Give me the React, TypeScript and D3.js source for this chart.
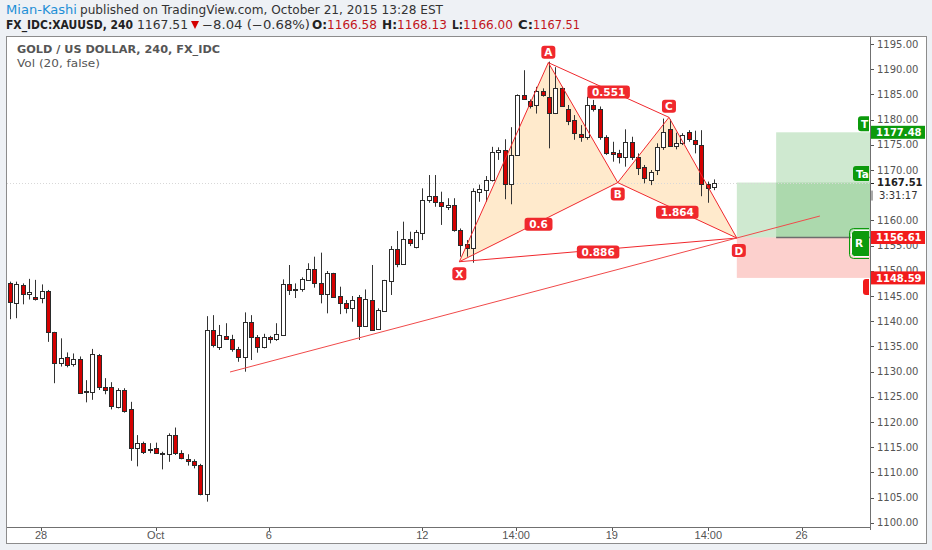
import React from 'react';
import * as d3 from 'd3';

// ---- Data ----
const opens = [1147.65,1143.55,1147.2,1145.3,1144.9,1144.7,1146.06,1137.85,1131.8,1132.8,1131.6,1132.5,1125.9,1126.0,1133.3,1127.0,1127.0,1123.05,1126.35,1122.5,1114.8,1115.8,1114.5,1114.8,1113.8,1113.65,1117.35,1113.9,1112.65,1112.3,1111.5,1105.7,1138.25,1134.95,1137.1,1136.4,1134.4,1132.96,1139.77,1136.8,1134.8,1136.9,1136.5,1137.26,1147.3,1146.3,1146.3,1148.2,1150.3,1147.5,1145.35,1149.5,1145.0,1143.54,1142.6,1144.86,1139.05,1144.2,1138.38,1142.02,1148.04,1154.25,1151.28,1156.24,1154.65,1157.56,1164.05,1164.9,1163.7,1162.6,1163.05,1158.1,1155.3,1154.45,1165.56,1166.03,1168.0,1173.5,1174.0,1167.2,1173.0,1184.9,1183.75,1182.9,1185.7,1184.55,1181.24,1186.2,1182.2,1179.9,1177.07,1176.6,1182.9,1182.1,1176.6,1173.63,1173.4,1172.6,1175.6,1172.6,1170.66,1168.0,1170.0,1174.6,1178.07,1174.76,1175.3,1177.6,1175.95,1174.95,1167.2,1166.58];
const highs = [1147.85,1147.85,1147.5,1148.4,1148.2,1147.3,1146.2,1137.9,1136.6,1133.8,1133.6,1133.0,1128.3,1134.5,1133.5,1128.7,1127.9,1126.7,1126.7,1124.0,1117.4,1116.1,1115.8,1115.9,1114.1,1117.75,1118.9,1114.4,1113.6,1112.6,1111.7,1141.0,1141.2,1139.25,1139.6,1137.3,1134.9,1141.75,1141.2,1137.25,1137.5,1137.1,1139.6,1148.3,1151.15,1147.5,1148.7,1151.5,1152.8,1153.6,1149.96,1149.6,1146.85,1144.2,1145.0,1145.2,1146.3,1151.15,1142.55,1148.2,1154.9,1157.9,1159.75,1157.76,1158.1,1166.36,1169.0,1169.0,1165.7,1164.4,1164.4,1158.4,1156.1,1166.36,1167.1,1168.8,1174.6,1174.5,1176.1,1178.5,1185.0,1189.8,1184.0,1186.5,1186.2,1191.5,1190.4,1186.5,1182.9,1180.9,1178.9,1184.55,1183.9,1182.6,1176.9,1175.6,1174.0,1178.07,1176.6,1173.3,1171.0,1170.0,1175.3,1180.2,1180.05,1177.4,1177.3,1177.9,1177.8,1177.9,1167.7,1168.13];
const lows = [1140.4,1140.6,1143.35,1144.3,1144.1,1143.55,1135.9,1127.7,1131.0,1130.85,1131.0,1125.6,1123.9,1124.4,1126.35,1125.5,1122.5,1122.7,1121.85,1112.3,1111.2,1113.65,1113.8,1113.65,1110.6,1112.1,1113.45,1112.6,1111.35,1110.8,1105.45,1104.2,1134.8,1134.3,1136.3,1133.95,1131.95,1129.98,1132.3,1133.75,1134.6,1135.6,1136.1,1137.06,1145.2,1144.6,1145.85,1148.04,1146.65,1143.54,1141.56,1144.67,1141.4,1141.56,1139.9,1136.27,1138.9,1138.1,1138.25,1141.9,1145.2,1150.7,1151.15,1154.9,1154.45,1156.1,1163.5,1162.7,1159.1,1162.06,1157.76,1152.8,1152.8,1151.6,1163.7,1163.7,1167.7,1172.0,1164.2,1163.2,1172.9,1183.9,1182.2,1181.2,1184.55,1174.3,1181.1,1182.6,1178.9,1176.0,1175.6,1176.0,1181.6,1176.0,1173.0,1171.65,1171.3,1170.66,1172.0,1169.0,1167.35,1167.0,1169.0,1174.0,1174.6,1174.1,1174.95,1175.6,1173.3,1164.8,1163.5,1166.0];
const closes = [1143.75,1147.3,1145.3,1145.7,1144.5,1146.0,1137.8,1131.8,1132.6,1131.3,1132.5,1125.8,1126.1,1133.4,1126.9,1126.35,1123.2,1126.35,1122.25,1114.8,1115.8,1114.1,1114.7,1113.8,1113.9,1117.5,1113.8,1112.8,1112.25,1111.5,1105.7,1138.25,1135.3,1137.3,1136.4,1134.5,1132.8,1139.77,1136.8,1134.95,1136.9,1136.4,1137.5,1147.3,1146.2,1146.45,1148.4,1150.35,1147.5,1145.35,1149.5,1144.75,1143.54,1142.68,1144.3,1139.05,1144.33,1138.25,1142.22,1148.17,1154.25,1151.35,1156.24,1155.45,1157.76,1164.05,1164.9,1163.7,1162.85,1163.05,1158.1,1155.1,1154.45,1165.9,1166.2,1168.0,1173.63,1174.0,1167.2,1173.0,1184.9,1184.0,1182.75,1185.7,1184.9,1181.24,1186.2,1182.7,1179.7,1177.3,1176.6,1182.9,1182.2,1176.5,1173.4,1173.1,1172.5,1175.6,1172.6,1170.3,1168.35,1169.67,1174.6,1177.6,1174.76,1175.4,1176.94,1176.1,1175.1,1167.2,1166.5,1167.51];

const priceTicks = [1100,1105,1110,1115,1120,1125,1130,1135,1140,1145,1150,1155,1160,1165,1170,1175,1180,1185,1190,1195];
const timeLabels = ['28','Oct','6','12','14:00','19','14:00','26'];
const timeLabelIdx = [4.9, 22.97, 40.8, 65.0, 79.8, 94.9, 110.1, 124.8];

const patternNames = ['X','A','B','C','D'];
const patternIdx = [70.85, 84.88, 95.82, 103.9, 114.6];
const patternPrice = [1151.8, 1191.3, 1167.5, 1180.45, 1156.5];
const ratioLabels = ['0.551','0.6','1.864','0.886'];
const ratioPairs = [[1,3],[0,2],[2,4],[0,4]];

const trendIdx = [34.69, 127.7];
const trendPrice = [1129.92, 1160.87];

const entryPrice = 1156.61;
const targetPrice = 1177.48;
const stopPrice = 1148.59;
const lastPrice = 1167.51;
const countdown = '3:31:17';
const pos1StartIdx = 114.6;
const pos2StartIdx = 120.8;
const posEndIdx = 136;

// ---- Layout ----
const W = 932, H = 550;
const plotL = 7, plotR = 870, plotT = 37, plotB = 527;
const RED = '#f0282d';
const CANDLE_RED = '#d40000';
const GREEN = '#0c9a0c';
const SANS = '"DejaVu Sans", Verdana, sans-serif';
const ARIAL = '"Liberation Sans", Arial, sans-serif';

export default function App() {
  const x = d3.scaleLinear().domain([0, 111]).range([10, 714]);
  const y = d3.scaleLinear().domain([1100, 1195]).range([522.8, 44]);
  const pts = patternIdx.map((v, i) => [x(v), y(patternPrice[i])] as [number, number]);
  const line = d3.line();

  const tri1 = [pts[0], pts[1], pts[2]];
  const tri2 = [pts[2], pts[3], pts[4]];

  const candles = opens.map((o, i) => {
    const c = closes[i];
    const cx = Math.round(x(i));
    const top = y(Math.max(o, c));
    const bot = y(Math.min(o, c));
    const up = c >= o;
    return (
      <g key={i}>
        <line x1={cx + 0.5} x2={cx + 0.5} y1={y(highs[i])} y2={y(lows[i])} stroke="#333" strokeWidth={1} />
        <rect x={cx - 1.5} y={Math.round(top) + 0.5} width={4} height={Math.max(1, Math.round(bot) - Math.round(top))}
          fill={up ? '#ffffff' : CANDLE_RED} stroke="#2b2b2b" strokeWidth={1} />
      </g>
    );
  });

  const axisLabel = (price: number, text: string, bg: string, key: string) => (
    <g key={key}>
      <rect x={871} y={y(price) - 6.5} width={54} height={13} fill={bg} />
      <text x={876} y={y(price) + 4} fontFamily={SANS} fontSize={10} fontWeight="bold" fill="#fff">{text}</text>
    </g>
  );

  const sideTag = (left: number, price: number, text: string, bg: string, key: string, h = 14) => (
    <g key={key}>
      <rect x={left} y={y(price) - h / 2} width={40} height={h} rx={3} fill={bg} />
      <text x={left + 3} y={y(price) + 4} fontFamily={SANS} fontSize={10.5} fontWeight="bold" fill="#fff">{text}</text>
    </g>
  );

  // tick labels hidden behind the countdown box
  const visibleTicks = priceTicks.filter(p => Math.abs(y(p) - (y(lastPrice) + 12)) > 6);

  return (
    <div style={{ position: 'absolute', left: 0, top: 0 }}>
      <svg width={W} height={H} viewBox={`0 0 ${W} ${H}`} style={{ display: 'block' }}>
        <defs>
          <clipPath id="plot"><rect x={plotL} y={plotT} width={plotR - plotL} height={plotB - plotT} /></clipPath>
          <clipPath id="tags"><rect x={plotL} y={plotT} width={plotR - plotL - 1} height={plotB - plotT} /></clipPath>
          <clipPath id="axis"><rect x={plotR} y={plotT} width={57} height={plotB - plotT - 1} /></clipPath>
        </defs>
        <rect x={0} y={0} width={W} height={H} fill="#eef1f5" />

        {/* header */}
        <text x={6} y={14} fontFamily={SANS} fontSize={12} fill="#1e8fd6" textLength={71} lengthAdjust="spacingAndGlyphs">Mian-Kashi</text>
        <text x={80} y={14} fontFamily={SANS} fontSize={12} fill="#333" textLength={363} lengthAdjust="spacingAndGlyphs">published on TradingView.com, October 21, 2015 13:28 EST</text>
        <g fontFamily={SANS} fontSize={11.5}>
          <text x={6} y={29} fontWeight="bold" fill="#222" textLength={127} lengthAdjust="spacingAndGlyphs">FX_IDC:XAUUSD, 240</text>
          <text x={137} y={29} fill="#333" textLength={51} lengthAdjust="spacingAndGlyphs">1167.51</text>
          <path d="M191,21 L199,21 L195,29 Z" fill="#d40000" />
          <text x={202} y={29} fill="#333" textLength={108} lengthAdjust="spacingAndGlyphs">−8.04 (−0.68%)</text>
          <text x={312} y={29} fontWeight="bold" fill="#222" textLength={15} lengthAdjust="spacingAndGlyphs">O:</text>
          <text x={327} y={29} fill="#c2151b" textLength={50} lengthAdjust="spacingAndGlyphs">1166.58</text>
          <text x={382} y={29} fontWeight="bold" fill="#222" textLength={15} lengthAdjust="spacingAndGlyphs">H:</text>
          <text x={397} y={29} fill="#c2151b" textLength={50} lengthAdjust="spacingAndGlyphs">1168.13</text>
          <text x={452} y={29} fontWeight="bold" fill="#222" textLength={11} lengthAdjust="spacingAndGlyphs">L:</text>
          <text x={463} y={29} fill="#c2151b" textLength={50} lengthAdjust="spacingAndGlyphs">1166.00</text>
          <text x={518} y={29} fontWeight="bold" fill="#222" textLength={15} lengthAdjust="spacingAndGlyphs">C:</text>
          <text x={533} y={29} fill="#c2151b" textLength={47} lengthAdjust="spacingAndGlyphs">1167.51</text>
        </g>

        {/* frame */}
        <rect x={6.5} y={36.5} width={920} height={507} fill="#ffffff" stroke="#8c8c8c" strokeWidth={1} />

        <g clipPath="url(#plot)">
          {/* position tool */}
          <rect x={x(pos1StartIdx)} y={y(lastPrice)} width={x(posEndIdx) - x(pos1StartIdx)} height={y(entryPrice) - y(lastPrice)} fill="rgba(76,175,80,0.27)" />
          <rect x={x(pos2StartIdx)} y={y(targetPrice)} width={x(posEndIdx) - x(pos2StartIdx)} height={y(entryPrice) - y(targetPrice)} fill="rgba(76,175,80,0.27)" />
          <rect x={x(pos1StartIdx)} y={y(entryPrice)} width={x(posEndIdx) - x(pos1StartIdx)} height={y(stopPrice) - y(entryPrice)} fill="rgba(244,67,54,0.25)" />
          <line x1={x(pos2StartIdx)} x2={plotR} y1={y(entryPrice)} y2={y(entryPrice)} stroke="#6d6d6d" strokeWidth={1.5} />

          {/* pattern fills */}
          <path d={line(tri1) + 'Z'} fill="rgba(255,152,0,0.2)" />
          <path d={line(tri2) + 'Z'} fill="rgba(255,152,0,0.2)" />

          {/* last price dotted line */}
          <line x1={plotL} x2={plotR} y1={Math.round(y(lastPrice)) + 0.5} y2={Math.round(y(lastPrice)) + 0.5} stroke="#d8d8d8" strokeDasharray="1,2" />

          {candles}

          {/* pattern lines */}
          <g stroke={RED} strokeWidth={1} fill="none">
            <path d={line([pts[0], pts[1], pts[2], pts[3], pts[4]])} />
            <path d={line([pts[0], pts[2], pts[4]])} />
            <path d={line([pts[1], pts[3]])} />
            <path d={line([pts[0], pts[4]])} />
          </g>
          <line x1={x(trendIdx[0])} y1={y(trendPrice[0])} x2={x(trendIdx[1])} y2={y(trendPrice[1])} stroke="#f04a4a" strokeWidth={1} />

          {/* ratio labels */}
          {ratioLabels.map((t, i) => {
            const [a, b] = ratioPairs[i];
            const mx = (pts[a][0] + pts[b][0]) / 2;
            const my = (pts[a][1] + pts[b][1]) / 2 + 2;
            const w = 6 + t.length * 7.3;
            return (
              <g key={t}>
                <rect x={mx - w / 2} y={my - 6.5} width={w} height={13} rx={3} fill={RED} />
                <text x={mx} y={my + 4} textAnchor="middle" fontFamily={SANS} fontSize={10.5} fontWeight="bold" fill="#fff">{t}</text>
              </g>
            );
          })}
          {patternNames.map((n, i) => {
            const dy = [12, -10.5, 11.5, -11, 12.5][i];
            const cx = pts[i][0] + (i === 4 ? 2 : 0);
            const cy = pts[i][1] + dy;
            return (
              <g key={n}>
                <rect x={cx - 7} y={cy - 6.5} width={14} height={13} rx={3} fill={RED} />
                <text x={cx} y={cy + 4} textAnchor="middle" fontFamily={SANS} fontSize={10.5} fontWeight="bold" fill="#fff">{n}</text>
              </g>
            );
          })}

          {/* chart title */}
          <text x={17} y={53} fontFamily={SANS} fontSize={11} fontWeight="bold" fill="#555" textLength={203} lengthAdjust="spacingAndGlyphs">GOLD / US DOLLAR, 240, FX_IDC</text>
          <text x={17} y={67} fontFamily={SANS} fontSize={11} fill="#555" textLength={83} lengthAdjust="spacingAndGlyphs">Vol (20, false)</text>
        </g>

        {/* side tags (clipped at axis) */}
        <g clipPath="url(#tags)">
          {sideTag(858, 1179.2, 'T', GREEN, 't1', 15)}
          {sideTag(853, 1169.3, 'Ta', GREEN, 't2', 15)}
          <rect x={851.5} y={y(entryPrice) - 7} width={40} height={26} rx={3} fill={GREEN} stroke="#fff" strokeWidth={1} />
          <rect x={849.5} y={y(entryPrice) - 9} width={44} height={30} rx={4} fill="none" stroke={GREEN} strokeWidth={1} />
          <text x={855} y={y(entryPrice) + 10} fontFamily={SANS} fontSize={10.5} fontWeight="bold" fill="#fff">R</text>
          <rect x={863} y={y(stopPrice) + 1} width={30} height={16} rx={3} fill="#f21b1b" />
        </g>

        {/* right axis */}
        <line x1={plotR + 0.5} x2={plotR + 0.5} y1={plotT} y2={plotB + 3} stroke="#707070" strokeWidth={1} />
        <g clipPath="url(#axis)">
          {priceTicks.map(p => (
            <line key={'t' + p} x1={plotR + 1} x2={plotR + 4} y1={Math.round(y(p)) + 0.5} y2={Math.round(y(p)) + 0.5} stroke="#555" />
          ))}
          {visibleTicks.map(p => (
            <text key={p} x={877} y={y(p) + 3.5} fontFamily={SANS} fontSize={10} fill="#555">{p.toFixed(2)}</text>
          ))}
          <rect x={871} y={y(lastPrice) - 6} width={54} height={25} fill="#fff" />
          <line x1={plotR + 1} x2={plotR + 4} y1={Math.round(y(lastPrice)) + 0.5} y2={Math.round(y(lastPrice)) + 0.5} stroke="#222" />
          <text x={877} y={y(lastPrice) + 3.5} fontFamily={SANS} fontSize={10} fontWeight="bold" fill="#222">{lastPrice.toFixed(2)}</text>
          <line x1={plotR + 2} x2={plotR + 2} y1={y(lastPrice) + 8} y2={y(lastPrice) + 18} stroke="#555" />
          <text x={879} y={y(lastPrice) + 16} fontFamily={SANS} fontSize={10} fill="#333">{countdown}</text>
          {axisLabel(targetPrice, targetPrice.toFixed(2), GREEN, 'tg')}
          {axisLabel(entryPrice, entryPrice.toFixed(2), '#f21b1b', 'en')}
          {axisLabel(stopPrice, stopPrice.toFixed(2), '#f21b1b', 'st')}
        </g>

        {/* bottom axis */}
        <line x1={plotL} x2={plotR + 1} y1={plotB + 0.5} y2={plotB + 0.5} stroke="#707070" />
        {timeLabels.map((t, i) => (
          <g key={i}>
            <line x1={Math.round(x(timeLabelIdx[i])) + 0.5} x2={Math.round(x(timeLabelIdx[i])) + 0.5} y1={plotB + 1} y2={plotB + 4} stroke="#555" />
            <text x={x(timeLabelIdx[i])} y={plotB + 12} textAnchor="middle" fontFamily={ARIAL} fontSize={11} fill="#555">{t}</text>
          </g>
        ))}
      </svg>
    </div>
  );
}
